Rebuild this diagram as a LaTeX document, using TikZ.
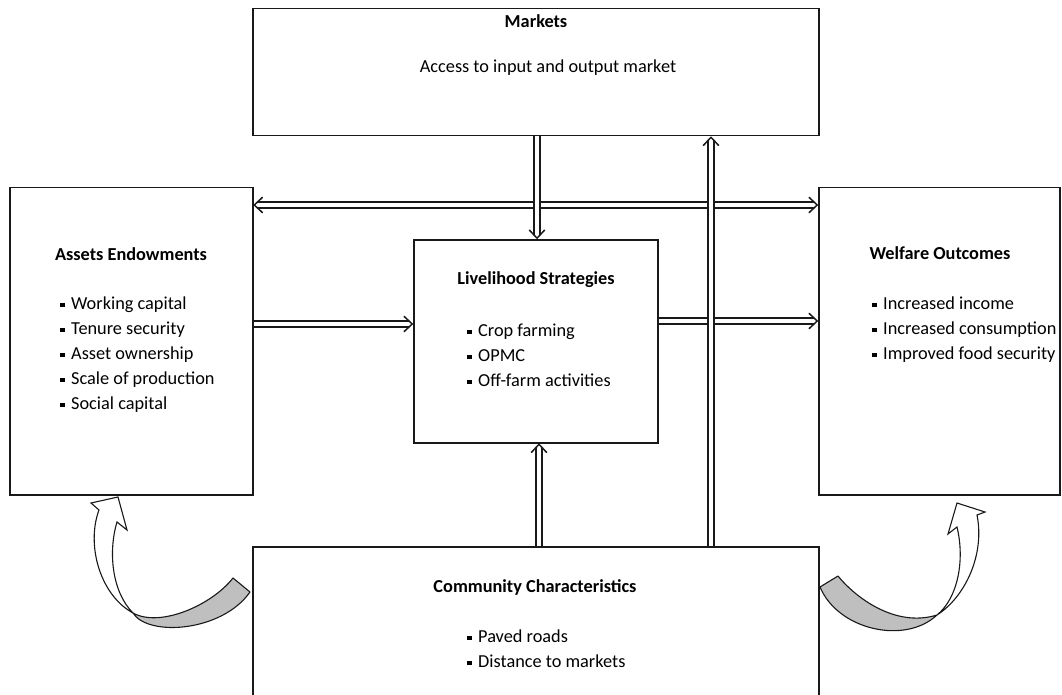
\documentclass[tikz,border=0pt]{standalone}
\usepackage{fontspec}
\setmainfont{Carlito}
\usetikzlibrary{decorations.markings}
\newcommand{\bsq}{\makebox[11pt][l]{\raisebox{2pt}{\rule{4.4pt}{4.4pt}}}}
\begin{document}
\begin{tikzpicture}[x=1pt,y=-1pt,
  box/.style={draw=black!90, line width=1.5pt, inner sep=0pt, anchor=north west},
  headend/.style={postaction={decorate, decoration={markings,
      mark=at position 1 with {\draw[draw=black!90, line width=1.5pt, shorten >=0pt, shorten <=0pt, line join=round, line cap=round] (-8pt,7.5pt) -- (0pt,0pt) -- (-8pt,-7.5pt);}}}},
  headstart/.style={postaction={decorate, decoration={markings,
      mark=at position 0 with {\draw[draw=black!90, line width=1.5pt, shorten >=0pt, shorten <=0pt, line join=round, line cap=round] (8pt,7.5pt) -- (0pt,0pt) -- (8pt,-7.5pt);}}}},
  dbl/.style={draw=white, line width=4.6pt, shorten >=3.4pt,
      preaction={draw=black!90, line width=7.6pt, shorten >=3.4pt}, headend},
  dblboth/.style={draw=white, line width=4.6pt, shorten >=3.4pt, shorten <=3.4pt,
      preaction={draw=black!90, line width=7.6pt, shorten >=3.4pt, shorten <=3.4pt}, headend, headstart},
  txt/.style={font=\fontsize{18.3}{22}\selectfont, text=black, inner sep=0pt, anchor=base west},
  ttl/.style={font=\fontsize{18.3}{22}\selectfont\bfseries, text=black, inner sep=0pt, anchor=base},
  band/.style={fill=black!25, draw=black!90, line width=1.1pt, line join=round},
  arr/.style={fill=white, draw=black!90, line width=1.1pt, line join=miter},
]
\useasboundingbox (0,0) rectangle (1062,695);
\fill[white] (0,0) rectangle (1062,695);

% boxes
\node[box, minimum width=566pt, minimum height=127pt] (mk) at (252,8) {};
\node[box, minimum width=243pt, minimum height=307pt] (ae) at (9,187) {};
\node[box, minimum width=241pt, minimum height=307pt] (wo) at (818,187) {};
\node[box, minimum width=244pt, minimum height=203pt] (ls) at (413,239) {};
\node[box, minimum width=566pt, minimum height=170pt] (cc) at (252,546) {};

% texts
\node[ttl] (mkt) at (536,28) {Markets};
\node[txt, anchor=base] (mka) at (548,73) {Access to input and output market};

\node[ttl] (aet) at (131,260) {Assets Endowments};
\foreach \t [count=\i] in {Working capital, Tenure security, Asset ownership, Scale of production, Social capital}
  \node[txt] (ae\i) at (60,284+25*\i) {\bsq\t};

\node[ttl] (wot) at (940,259) {Welfare Outcomes};
\foreach \t [count=\i] in {Increased income, Increased consumption, Improved food security}
  \node[txt] (wo\i) at (872,284+25*\i) {\bsq\t};

\node[ttl] (lst) at (536,284) {Livelihood Strategies};
\foreach \t [count=\i] in {Crop farming, OPMC, Off-farm activities}
  \node[txt] (ls\i) at (467,311+25*\i) {\bsq\t};

\node[ttl] (cct) at (535,592) {Community Characteristics};
\foreach \t [count=\i] in {Paved roads, Distance to markets}
  \node[txt] (cc\i) at (467,617+25*\i) {\bsq\t};

% straight double arrows
\coordinate (ya) at (0,205);
\coordinate (yb) at (0,324);
\coordinate (yc) at (0,321);
\coordinate (xa) at (537,0);
\coordinate (xc) at (539,0);
\coordinate (xd) at (711,0);
\path[dblboth] ([xshift=0.8pt]ae.east |- ya) -- ([xshift=-0.8pt]wo.west |- ya);
\path[dbl] (ae.east |- yb) -- ([xshift=-0.8pt]ls.west |- yb);
\path[dbl] (ls.east |- yc) -- ([xshift=-0.8pt]wo.west |- yc);
\path[dbl] (mk.south -| xa) -- ([yshift=0.8pt]ls.north -| xa);
\path[dbl] (cc.north -| xc) -- ([yshift=-0.8pt]ls.south -| xc);
\path[dbl] (cc.north -| xd) -- ([yshift=-0.8pt]mk.south -| xd);

% curved arrow, left
\path[band] (233,578) .. controls (212,605) and (160,628) .. (133,613)
  .. controls (148,637) and (222,632) .. (250,592) -- cycle;
\path[arr] (133,613) .. controls (100,595) and (86,545) .. (99,510)
  -- (91,503) -- (118,497) -- (127,530) -- (117,522)
  .. controls (108,552) and (112,592) .. (133,613) -- cycle;

% curved arrow, right
\path[band] (838,576) .. controls (855,597) and (895,628) .. (937,615)
  .. controls (905,645) and (838,630) .. (820,587) -- cycle;
\path[arr] (937,615) .. controls (965,597) and (985,555) .. (977,515)
  -- (985,512) -- (957,503) -- (948,534) -- (957,527)
  .. controls (965,560) and (958,598) .. (937,615) -- cycle;
\end{tikzpicture}
\end{document}
